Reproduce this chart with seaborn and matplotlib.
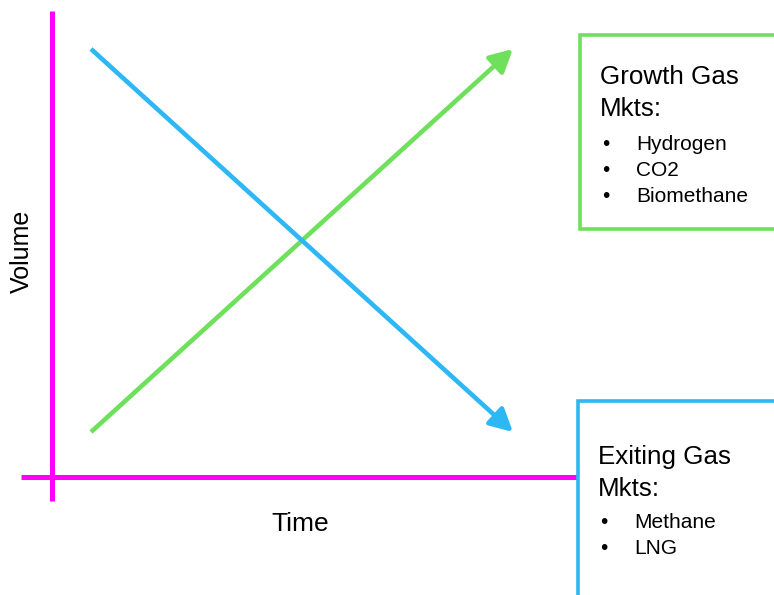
import matplotlib
matplotlib.use("Agg")
import matplotlib.pyplot as plt
import seaborn as sns
from matplotlib.patches import Rectangle

# ---- data ----
time = [0, 10]
growth_volume = [1, 10]
exiting_volume = [10, 1]
x_label = "Time"
y_label = "Volume"
growth_title = ["Growth Gas", "Mkts:"]
growth_items = ["Hydrogen", "CO2", "Biomethane"]
exiting_title = ["Exiting Gas", "Mkts:"]
exiting_items = ["Methane", "LNG"]

GREEN = "#6EE05B"
BLUE = "#2DB7F5"
MAGENTA = "#FF00FF"

sns.set_theme(style="white")
plt.rcParams["font.family"] = ["Liberation Sans", "DejaVu Sans"]

W, H = 774, 595
fig = plt.figure(figsize=(W / 100, H / 100), dpi=100)

# overlay axes in pixel units for decorations
ov = fig.add_axes([0, 0, 1, 1])
ov.set_xlim(0, W)
ov.set_ylim(H, 0)
ov.axis("off")

# main data axes
ax = fig.add_axes([0, 0, 1, 1], facecolor="none")
ax.set_xlim(-91 / 42.2, (W - 91) / 42.2)
ax.set_ylim(1 - (H - 432) / 42.56, 1 + 432 / 42.56)
ax.axis("off")

# axis lines (magenta)
ov.plot([52, 52], [11, 501], color=MAGENTA, lw=3.6, solid_capstyle="butt", zorder=1)
ov.plot([21, 577], [477, 477], color=MAGENTA, lw=3.6, solid_capstyle="butt", zorder=1)

# boxes
ov.add_patch(Rectangle((579.5, 34.5), 300, 194.5, lw=2.6, ec=GREEN, fc="white", zorder=3))
ov.add_patch(Rectangle((577.5, 400.5), 300, 300, lw=2.6, ec=BLUE, fc="white", zorder=3))

# lines with arrows (drawn in the data axes)
for vals, col in [(growth_volume, GREEN), (exiting_volume, BLUE)]:
    ax.annotate("", xy=(time[-1], vals[-1]), xytext=(time[0], vals[0]),
                xycoords="data", textcoords="data",
                arrowprops=dict(arrowstyle="-|>,head_length=1.15,head_width=0.6",
                                mutation_scale=12, color=col, lw=3.3,
                                shrinkA=0, shrinkB=0, capstyle="butt"))

# axis labels
ov.text(300, 531, x_label, fontsize=19, ha="center", va="baseline", color="black")
ov.text(22, 251, y_label, fontsize=18, ha="center", va="center", rotation=90, color="black")

# box texts
def box_text(x0, title_base, item_base, title, items):
    for i, t in enumerate(title):
        ov.text(x0, title_base + i * 31.5, t, fontsize=18.7, ha="left", va="baseline",
                color="black", zorder=4)
    for i, t in enumerate(items):
        y = item_base + i * 26
        ov.text(x0 + 2, y, "\u2022", fontsize=15, ha="left", va="baseline", color="black", zorder=4)
        ov.text(x0 + 36, y, t, fontsize=15, ha="left", va="baseline", color="black", zorder=4)

box_text(600, 84, 149.5, growth_title, growth_items)
box_text(598, 464, 528.5, exiting_title, exiting_items)

fig.savefig("out.png", dpi=100, facecolor="white")
